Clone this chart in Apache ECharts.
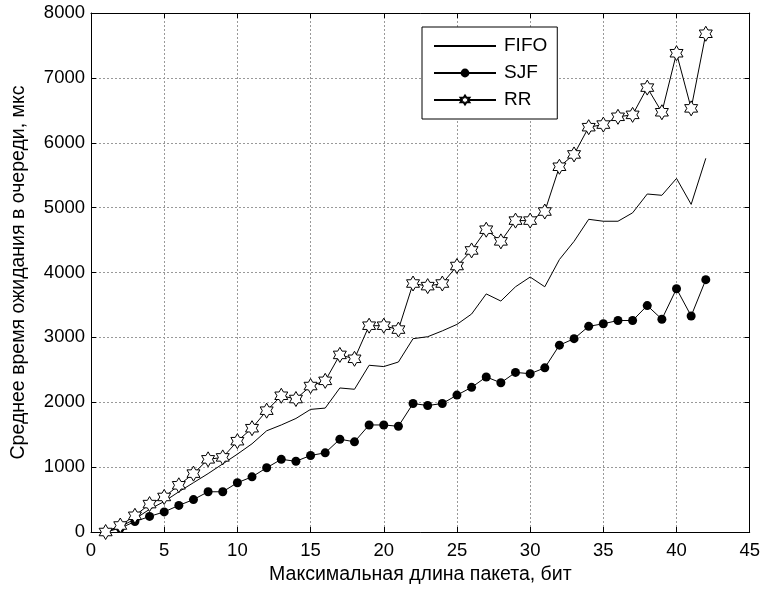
<!DOCTYPE html>
<html>
<head>
<meta charset="utf-8">
<script src="https://cdn.jsdelivr.net/npm/echarts@6/dist/echarts.min.js"></script>
<style>
  html, body { margin: 0; padding: 0; background: #fff; }
  #chart { width: 763px; height: 590px; }
</style>
</head>
<body>
<div id="chart"></div>
<script>
// максимальная длина пакета
const packetLen = [1, 2, 3, 4, 5, 6, 7, 8, 9, 10, 11, 12, 13, 14, 15, 16, 17, 18, 19, 20, 21,
  22, 23, 24, 25, 26, 27, 28, 29, 30, 31, 32, 33, 34, 35, 36, 37, 38, 39, 40, 41, 42];

const fifo = [0, 80, 200, 350, 470, 620, 760, 900, 1050, 1200, 1360, 1560, 1650, 1750, 1890, 1910,
  2220, 2200, 2570, 2550, 2620, 2980, 3010, 3100, 3200, 3360, 3670, 3560, 3780, 3930, 3780,
  4200, 4480, 4820, 4790, 4790, 4920, 5210, 5190, 5450, 5050, 5760];

const sjf = [0, 60, 160, 240, 310, 410, 500, 620, 620, 760, 850, 990, 1120, 1090, 1180, 1220,
  1430, 1390, 1650, 1650, 1630, 1980, 1950, 1980, 2110, 2230, 2390, 2300, 2460, 2440, 2530,
  2880, 2980, 3170, 3210, 3260, 3260, 3490, 3280, 3750, 3330, 3890];

const rr = [0, 100, 250, 430, 540, 720, 900, 1120, 1150, 1400, 1600, 1870, 2100, 2050, 2250, 2330,
  2730, 2670, 3180, 3180, 3120, 3830, 3790, 3830, 4100, 4340, 4660, 4480, 4800, 4800, 4940,
  5630, 5820, 6240, 6280, 6400, 6430, 6850, 6470, 7380, 6530, 7680];

const seriesNames = ['FIFO', 'SJF', 'RR'];

// шестиконечная звезда как в matlab (hexagram)
const hexagram = 'path://M50 0 L64.4 25 L93.3 25 L78.9 50 L93.3 75 L64.4 75 L50 100 L35.6 75 L6.7 75 L21.1 50 L6.7 25 L35.6 25 Z';

const font = 'Liberation Sans, Arial, sans-serif';
const pairs = (ys) => packetLen.map((x, i) => [x, ys[i]]);

const gridLine = { show: true, lineStyle: { color: '#999', type: [2, 2], width: 1 } };
const boxLine = { show: true, onZero: false, lineStyle: { color: '#000', width: 1 } };
const inTick = { show: true, inside: true, length: 5, lineStyle: { color: '#000' } };

const chart = echarts.init(document.getElementById('chart'));
chart.setOption({
  animation: false,
  backgroundColor: '#fff',
  grid: { left: 91, right: 11, top: 13, bottom: 58 },
  legend: {
    // у FIFO в легенде только линия, без маркера
    data: [
      { name: seriesNames[0], itemStyle: { opacity: 0 } },
      { name: seriesNames[1] },
      { name: seriesNames[2] }
    ],
    orient: 'vertical',
    left: 422,
    top: 27,
    padding: [9, 10, 9, 11],
    itemWidth: 62,
    itemHeight: 11,
    itemGap: 7,
    backgroundColor: '#fff',
    borderColor: '#000',
    borderWidth: 1,
    textStyle: { fontFamily: font, fontSize: 19, lineHeight: 20, color: '#000', padding: [0, 0, 0, 3] }
  },
  xAxis: [
    {
      type: 'value', min: 0, max: 45, interval: 5,
      name: 'Максимальная длина пакета, бит',
      nameLocation: 'middle', nameGap: 32,
      nameTextStyle: { fontFamily: font, fontSize: 19.5, color: '#000' },
      axisLine: boxLine, axisTick: inTick, splitLine: gridLine,
      axisLabel: { fontFamily: font, fontSize: 18.5, color: '#000', margin: 9 }
    },
    {
      type: 'value', min: 0, max: 45, interval: 5, position: 'top',
      axisLine: boxLine, axisTick: inTick, splitLine: { show: false },
      axisLabel: { show: false }
    }
  ],
  yAxis: [
    {
      type: 'value', min: 0, max: 8000, interval: 1000,
      name: 'Среднее время ожидания в очереди, мкс',
      nameLocation: 'middle', nameGap: 62,
      nameTextStyle: { fontFamily: font, fontSize: 19.5, color: '#000' },
      axisLine: boxLine, axisTick: inTick, splitLine: gridLine,
      axisLabel: { fontFamily: font, fontSize: 18.5, color: '#000', margin: 6, formatter: (v) => String(v) }
    },
    {
      type: 'value', min: 0, max: 8000, interval: 1000, position: 'right',
      axisLine: boxLine, axisTick: inTick, splitLine: { show: false },
      axisLabel: { show: false }
    }
  ],
  series: [
    {
      name: 'FIFO', type: 'line', data: pairs(fifo),
      symbol: 'none',
      lineStyle: { color: '#000', width: 1 },
      itemStyle: { color: '#000' }
    },
    {
      name: 'SJF', type: 'line', data: pairs(sjf),
      symbol: 'circle', symbolSize: 9,
      lineStyle: { color: '#000', width: 1 },
      itemStyle: { color: '#000' }
    },
    {
      name: 'RR', type: 'line', data: pairs(rr),
      symbol: hexagram, symbolSize: 15, symbolKeepAspect: true,
      lineStyle: { color: '#000', width: 1 },
      itemStyle: { color: '#fff', borderColor: '#000', borderWidth: 1 }
    }
  ]
});
</script>
</body>
</html>
